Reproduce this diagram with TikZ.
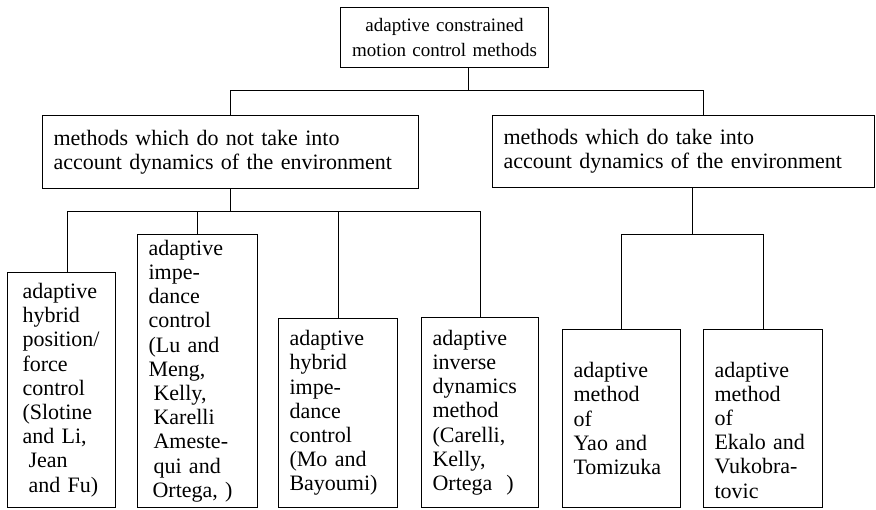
\documentclass[tikz,border=0pt]{standalone}
\usepackage{fontspec}
\setmainfont{Liberation Serif}
\usepackage{tikz}
\hyphenpenalty=10000
\exhyphenpenalty=10000

\begin{document}
\begin{tikzpicture}[x=1pt, y=-1pt]
  \tikzstyle{box} = [draw, line width=1.1pt, anchor=north west, align=left, inner xsep=11pt, inner ysep=3pt, font=\fontsize{22}{24.2}\selectfont]
  \tikzstyle{link} = [draw, line width=1.1pt]
  \useasboundingbox (0,0) rectangle (876,509);

  \node[box, align=center, inner xsep=6pt, text width=196pt, minimum height=60pt, font=\fontsize{19}{25}\selectfont] (top) at (340,7)
    {adaptive constrained\\motion control methods};

  \node[box, text width=354pt, minimum height=73pt] (lmid) at (42,115)
    {methods which do not take into\\account dynamics of the environment};
  \node[box, text width=360pt, minimum height=72pt] (rmid) at (492,115)
    {methods which do take into\\account dynamics of the environment};

  \node[box, inner xsep=15pt, text width=78pt, minimum height=235pt] (b1) at (7,272)
    {adaptive\\hybrid\\position/\\force\\control\\(Slotine\\and Li,\\\hspace*{6pt}Jean\\\hspace*{6pt}and Fu)};
  \node[box, text width=98pt, minimum height=273pt] (b2) at (137,234)
    {adaptive\\impe-\\dance\\control\\(Lu and\\Meng,\\\hspace*{5pt}Kelly,\\\hspace*{5pt}Karelli\\\hspace*{5pt}Ameste-\\\hspace*{5pt}qui and\\\hspace*{4pt}Ortega, )};
  \node[box, text width=97pt, minimum height=189pt] (b3) at (278,318)
    {adaptive\\hybrid\\impe-\\dance\\control\\(Mo and\\Bayoumi)};
  \node[box, text width=95pt, minimum height=190pt] (b4) at (421,317)
    {adaptive\\inverse\\dynamics\\method\\(Carelli,\\Kelly,\\Ortega\hspace{14pt})};
  \node[box, text width=96pt, minimum height=178pt] (b5) at (562,329)
    {adaptive\\method\\of\\Yao and\\Tomizuka};
  % empty first row keeps the text level with the box beside it
  \node[box, text width=97pt, minimum height=178pt] (b6) at (703,329)
    {\mbox{}\\[14pt]adaptive\\method\\of\\Ekalo and\\Vukobra-\\tovic};

  \path [link] ([xshift=24pt]top.south) -- ++(0,22) coordinate (j1);
  \path [link] (j1) -| (lmid.north);
  \path [link] (j1) -| ([xshift=20pt]rmid.north);

  \path [link] (lmid.south) -- ++(0,22) coordinate (j2);
  \path [link] (j2) -| ([xshift=6pt]b1.north);
  \path [link] (j2) -| (b2.north);
  \path [link] (j2) -| (b3.north);
  \path [link] (j2) -| (b4.north);

  \path [link] ([xshift=9pt]rmid.south) -- ++(0,46) coordinate (j3);
  \path [link] (j3) -| (b5.north);
  \path [link] (j3) -| (b6.north);

\end{tikzpicture}
\end{document}
